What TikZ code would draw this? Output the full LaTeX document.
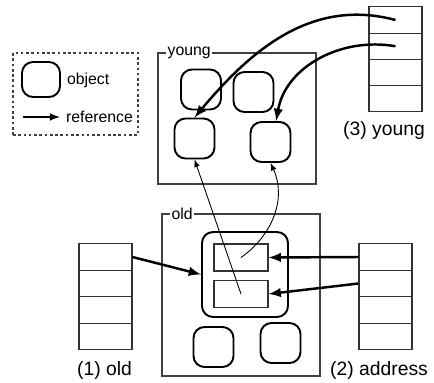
\documentclass[tikz,border=0pt]{standalone}
\usepackage{fontspec}
\setmainfont{Liberation Sans}
\begin{document}
\begin{tikzpicture}[x=0.02cm,y=-0.02cm,>=latex,
  obj/.style={draw,line width=1.1pt,rounded corners=0.22cm,minimum width=0.8cm,minimum height=0.8cm,inner sep=0pt},
  region/.style={draw=black!75,line width=0.6pt,inner sep=0pt},
  cell/.style={draw=black!80,line width=0.6pt,minimum width=1.06cm,minimum height=0.525cm,inner sep=0pt},
  slot/.style={draw=black!80,line width=0.6pt,minimum width=1.08cm,minimum height=0.54cm,inner sep=0pt},
  ref/.style={->,line width=1.4pt},
  ptr/.style={->,line width=0.5pt},
  tag/.style={fill=white,inner sep=1pt,font=\fontsize{9}{10}\selectfont},
  lbl/.style={font=\fontsize{11}{13}\selectfont}]
\useasboundingbox (0,0) rectangle (434,383);

% the legend
\node[region,dashed,dash pattern=on 1.5pt off 1.5pt,minimum width=2.5cm,minimum height=1.64cm] (legend) at (75.5,94) {};
\node[obj,minimum width=0.76cm,minimum height=0.7cm] (legobj) at (41,79.5) {};
\node[tag,anchor=west] (legobjtxt) at (65,80) {object};
\coordinate (legfrom) at (23,117);
\coordinate (legto) at (60,117);
\draw[->,line width=1pt] (legfrom) -- (legto);
\node[tag,anchor=west] (legreftxt) at (64,117) {reference};

% the young generation
\node[region,minimum width=3.16cm,minimum height=2.62cm] (young) at (237,118.5) {};
\node[tag,anchor=west] (younglbl) at ([xshift=0.16cm]young.north west) {young};
\node[obj] (y1) at (201,89.5) {};
\node[obj] (y2) at (253.5,92) {};
\node[obj] (y3) at (194.5,138.5) {};
\node[obj] (y4) at (270.5,142) {};

% the old generation
\node[region,minimum width=3.16cm,minimum height=3.24cm] (old) at (241,295) {};
\node[tag,anchor=west] (oldlbl) at ([xshift=0.16cm]old.north west) {old};
\node[obj,minimum width=1.72cm,minimum height=1.7cm] (big) at (245,274.5) {};
\node[slot] (s1) at (241,257.5) {};
\node[slot] (s2) at (241,294) {};
\node[obj] (o1) at (213.5,347) {};
\node[obj] (o2) at (280.5,343) {};

% the three root sets
\foreach \i/\y in {1/257,2/283.5,3/310,4/336.5} {
  \node[cell] (oc\i) at (105.5,\y) {};
  \node[cell] (ac\i) at (385.5,\y) {};
}
\foreach \i/\y in {1/20,2/46.25,3/72.5,4/98.75}
  \node[cell] (yc\i) at (395.5,\y) {};
\node[lbl] (oldtxt) at (104.5,370) {(1) old};
\node[lbl] (addrtxt) at (379,370) {(2) address};
\node[lbl] (youngtxt) at (384,130) {(3) young};

% the references
\draw[ref] (oc1.east) -- (big.west);
\draw[ref] (ac1.west) -- (s1.east);
\draw[ref] (ac2.west) -- (s2.east);
\draw[ref] (yc1.center) to[out=165,in=50] (y3.north);
\draw[ref] (yc2.center) to[out=170,in=80] (y4.75);
\draw[ptr] (s2.center) -- (y3.south);
\draw[ptr] (s1.center) to[out=35,in=-65] (y4.south);
\end{tikzpicture}
\end{document}
